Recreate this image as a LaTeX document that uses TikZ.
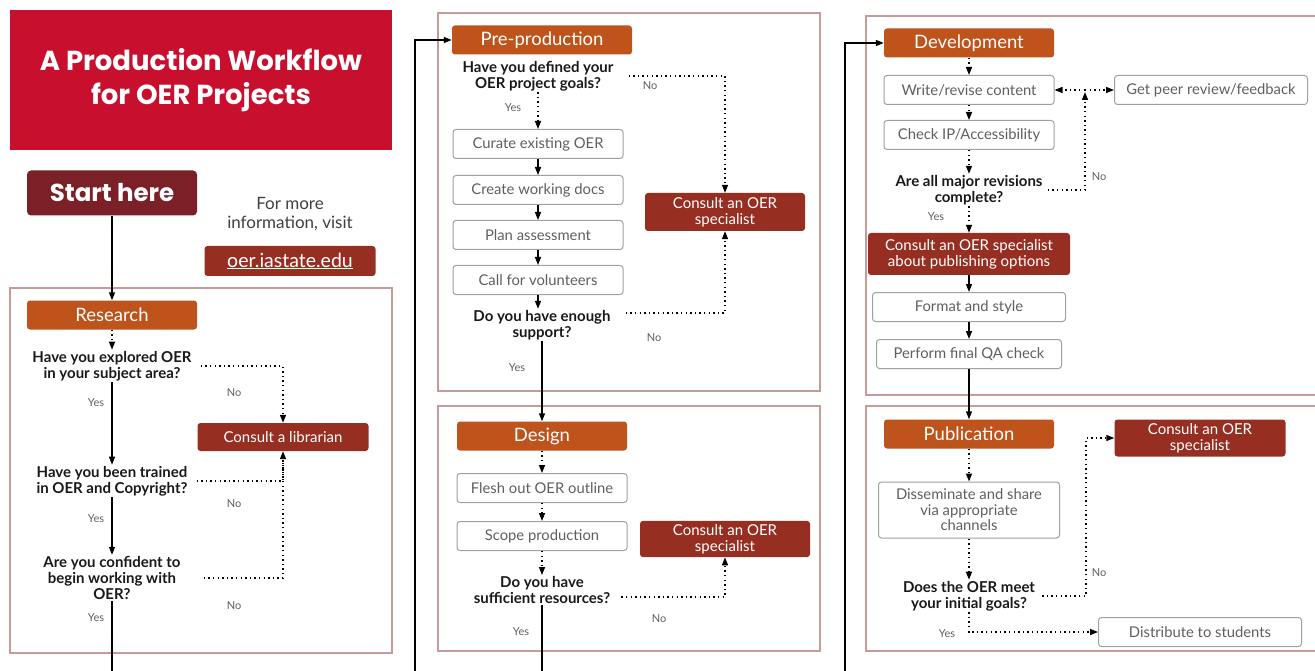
\documentclass[tikz,border=0pt]{standalone}
\usepackage{fontspec}
\setmainfont{Lato}
\newfontfamily\titelfont{Poppins}
\usetikzlibrary{arrows.meta}
\definecolor{oerrot}{RGB}{200,16,46}
\definecolor{startrot}{RGB}{122,32,38}
\definecolor{oerorange}{RGB}{190,83,27}
\definecolor{oerbraun}{RGB}{150,47,34}
\definecolor{rahmenfarbe}{RGB}{200,155,155}
\definecolor{boxgrau}{RGB}{160,160,160}
\definecolor{textgrau}{RGB}{95,95,95}
\tikzset{
    kopf/.style={fill=oerorange, rounded corners=3pt, minimum width=170pt, minimum height=29pt,
        text=white, font=\fontsize{18.5}{18.5}\selectfont},
    schritt/.style={draw=boxgrau, rounded corners=3pt, line width=1pt, minimum width=170pt,
        minimum height=29pt, text=textgrau, align=center, font=\fontsize{14.8}{15.5}\selectfont},
    rat/.style={fill=oerbraun, rounded corners=3pt, text=white, align=center,
        font=\fontsize{15}{16}\selectfont},
    frage/.style={inner sep=1pt, align=center, text=black!90, font=\bfseries\fontsize{15}{16.3}\selectfont},
    jn/.style={text=textgrau, font=\fontsize{11}{11}\selectfont},
    rahmen/.style={draw=rahmenfarbe, line width=1.3pt},
    linie/.style={line width=1.4pt},
    pfeil/.style={linie, -{Triangle[length=8pt,width=6pt]}},
    punkt/.style={linie, dash pattern=on 1.4pt off 3.2pt},
    punktpfeil/.style={punkt, -{Triangle[length=8pt,width=6pt]}},
}
\begin{document}
\begin{tikzpicture}[x=1pt, y=-1pt]
    \useasboundingbox (0,0) rectangle (1315,671);
    % Titel und Start
    \node[fill=oerrot, minimum width=382pt, minimum height=140pt, text=white, align=center,
        font=\titelfont\bfseries\fontsize{27.5}{34}\selectfont] (titel) at (201,80)
        {A Production Workflow\\for OER Projects};
    \node[fill=startrot, rounded corners=4pt, minimum width=170pt, minimum height=45pt, text=white,
        font=\titelfont\bfseries\fontsize{24.5}{24.5}\selectfont] (start) at (112,193) {Start here};
    \node[text=black!75, align=center, font=\fontsize{17}{19}\selectfont] (info) at (290,214)
        {For more\\information, visit};
    \node[rat, minimum width=171pt, minimum height=30pt, font=\fontsize{19.5}{19.5}\selectfont] (link)
        at (290,261) {\underline{oer.iastate.edu}};
    % Rahmen
    \draw[rahmen]
    (10,288) rectangle (392,653)
    (438,13) rectangle (820,391)
    (438,406) rectangle (820,651)
    (866,16) rectangle (1330,395)
    (866,406) rectangle (1330,651)
    ;
    % Research
    \node[kopf] (research) at (112,315) {Research};
    \node[frage] (q1) at (112,366) {Have you explored OER\\in your subject area?};
    \node[frage] (q2) at (112,481) {Have you been trained\\in OER and Copyright?};
    \node[frage] (q3) at (112,578) {Are you confident to\\begin working with\\OER?};
    \node[rat, minimum width=171pt, minimum height=28pt] (librarian) at (283,437) {Consult a librarian};
    \coordinate (ausR) at (112,671);
    \draw[pfeil] (start) -- (research);
    \draw[punktpfeil] (research) -- (q1);
    \draw[pfeil] (q1) -- (q2);
    \draw[pfeil] (q2) -- (q3);
    \draw[linie] (q3) -- (ausR);
    \draw[punktpfeil] ([xshift=8pt]q1.east) -| (librarian.north);
    \draw[punktpfeil] ([xshift=8pt]q2.east) -| (librarian.south);
    \draw[punkt] ([xshift=22pt]q3.east) -| (librarian.south);
    \node[jn] (ja1) at (96,403) {Yes};
    \node[jn] (ja2) at (96,519) {Yes};
    \node[jn] (ja3) at (96,618) {Yes};
    \node[jn] (nein1) at (234,393) {No};
    \node[jn] (nein2) at (234,504) {No};
    \node[jn] (nein3) at (234,606) {No};
    % Pre-production
    \node[kopf, minimum width=180pt] (preprod) at (542,40) {Pre-production};
    \node[frage] (q4) at (538,76) {Have you defined your\\OER project goals?};
    \node[schritt] (curate) at (538,144) {Curate existing OER};
    \node[schritt] (create) at (538,190) {Create working docs};
    \node[schritt] (plan) at (538,235) {Plan assessment};
    \node[schritt] (call) at (538,280) {Call for volunteers};
    \node[frage] (q5) at (542,325) {Do you have enough\\support?};
    \node[rat, minimum width=160pt, minimum height=38pt] (spez1) at (725,212) {Consult an OER\\specialist};
    \coordinate (einP) at (415,671);
    \draw[pfeil] (einP) |- (preprod.west);
    \draw[punktpfeil] (q4) -- (curate);
    \draw[pfeil] (curate) -- (create);
    \draw[pfeil] (create) -- (plan);
    \draw[pfeil] (plan) -- (call);
    \draw[pfeil] (call) -- (call |- q5.north);
    \draw[punktpfeil] ([xshift=14pt]q4.east) -| (spez1.north);
    \draw[punktpfeil] ([xshift=14pt,yshift=12pt]q5.east) -| (spez1.south);
    \node[jn] (ja4) at (513,108) {Yes};
    \node[jn] (ja5) at (517,368) {Yes};
    \node[jn] (nein4) at (650,86) {No};
    \node[jn] (nein5) at (654,338) {No};
    % Design
    \node[kopf] (design) at (542,436) {Design};
    \node[schritt] (flesh) at (542,488) {Flesh out OER outline};
    \node[schritt] (scope) at (542,536) {Scope production};
    \node[frage] (q6) at (542,590) {Do you have\\sufficient resources?};
    \node[rat, minimum width=170pt, minimum height=36pt] (spez2) at (725,539) {Consult an OER\\specialist};
    \coordinate (ausD) at (542,671);
    \draw[pfeil] (q5) -- (design);
    \draw[punktpfeil] (design) -- (flesh);
    \draw[punktpfeil] (flesh) -- (scope);
    \draw[punktpfeil] (scope) -- (q6);
    \draw[linie] (q6) -- (ausD);
    \draw[punktpfeil] ([xshift=10pt,yshift=-7pt]q6.east) -| (spez2.south);
    \node[jn] (ja6) at (521,632) {Yes};
    \node[jn] (nein6) at (659,619) {No};
    % Development
    \node[kopf] (develop) at (969,43) {Development};
    \node[schritt] (write) at (969,90) {Write/revise content};
    \node[schritt, minimum width=193pt] (peer) at (1211,90) {Get peer review/feedback};
    \node[schritt] (check) at (969,135) {Check IP/Accessibility};
    \node[frage] (q7) at (969,190) {Are all major revisions\\complete?};
    \node[rat, minimum width=202pt, minimum height=42pt] (spez3) at (969,254)
        {Consult an OER specialist\\about publishing options};
    \node[schritt, minimum width=193pt] (format) at (969,307) {Format and style};
    \node[schritt, minimum width=185pt] (qa) at (969,354) {Perform final QA check};
    \coordinate (einE) at (845,671);
    \coordinate (knotenE) at (1085,90);
    \draw[pfeil] (einE) |- (develop.west);
    \draw[punktpfeil] (develop) -- (write);
    \draw[punktpfeil] (write) -- (check);
    \draw[punktpfeil] (check) -- (q7);
    \draw[punktpfeil] (q7) -- (spez3);
    \draw[pfeil] (spez3) -- (format);
    \draw[pfeil] (format) -- (qa);
    \draw[punktpfeil] (knotenE) -- (write.east);
    \draw[punktpfeil] (knotenE) -- (peer.west);
    \draw[punktpfeil, shorten >=2pt] ([xshift=4pt]q7.east) -| (knotenE);
    \node[jn] (ja7) at (936,217) {Yes};
    \node[jn] (nein7) at (1099,177) {No};
    % Publication
    \node[kopf] (publik) at (969,434) {Publication};
    \node[schritt, minimum width=181pt, minimum height=56pt] (dissem) at (969,510)
        {Disseminate and share\\via appropriate\\channels};
    \node[frage] (q8) at (969,596) {Does the OER meet\\your initial goals?};
    \node[rat, minimum width=171pt, minimum height=37pt] (spez4) at (1200,438) {Consult an OER\\specialist};
    \node[schritt, minimum width=203pt] (distrib) at (1200,632) {Distribute to students};
    \coordinate (knotenP) at (1086,438);
    \draw[pfeil] (qa) -- (publik);
    \draw[punktpfeil] (publik) -- (dissem);
    \draw[punktpfeil] (dissem) -- (q8);
    \draw[punktpfeil] ([xshift=6pt]q8.east) -| (knotenP) -- (spez4.west);
    \draw[punktpfeil] (q8.south) |- (distrib.west);
    \node[jn] (ja8) at (947,634) {Yes};
    \node[jn] (nein8) at (1099,573) {No};
\end{tikzpicture}
\end{document}
